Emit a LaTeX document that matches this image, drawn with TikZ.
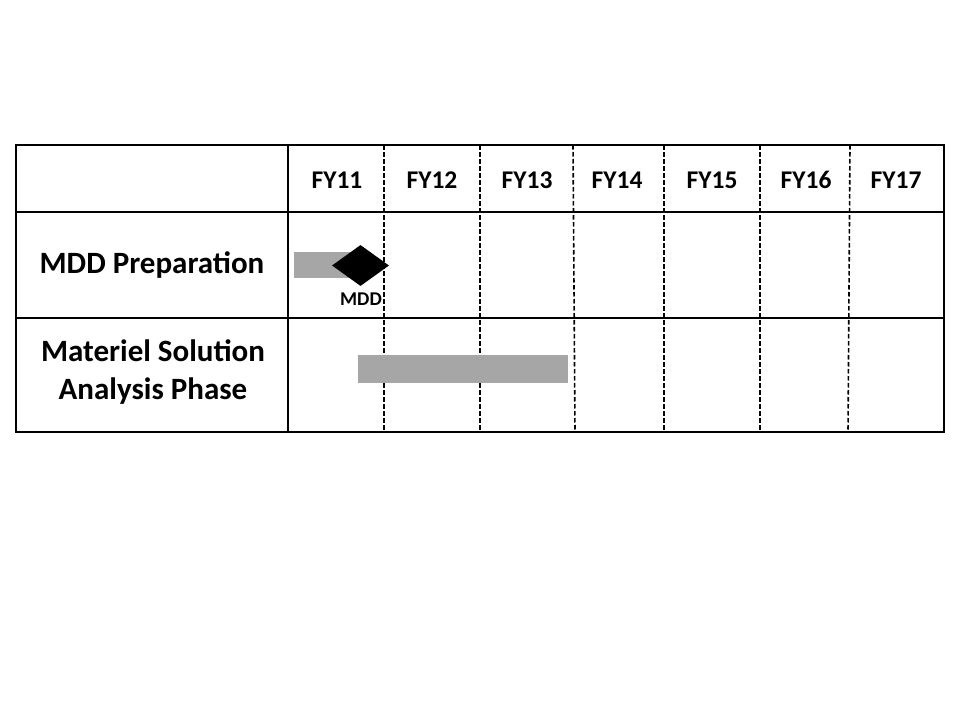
\documentclass[tikz,border=0pt]{standalone}
\usepackage{fontspec}
\setmainfont{Carlito}
\usetikzlibrary{shapes.geometric}

\begin{document}
\begin{tikzpicture}[x=1pt,y=-1pt,
  rowlabel/.style={font=\bfseries\fontsize{31}{38}\selectfont, align=center},
  yearlabel/.style={font=\bfseries\fontsize{25.5}{30}\selectfont},
  bar/.style={fill=black!35, draw=none},
  yearline/.style={black, line width=1.6pt, dashed, dash pattern=on 4.5pt off 2.5pt}]
\useasboundingbox (0,0) rectangle (960,720);
%% таблица;
\draw [line width=2pt] (16,212) -- (944,212);
\draw [line width=2pt] (16,318) -- (944,318);
\draw [line width=2pt] (288,145) -- (288,432);
\draw [yearline] (384,145) -- (384,432);
\draw [yearline] (480,145) -- (480,432);
\draw [yearline] (573,145) -- (575,432);
\draw [yearline] (664,145) -- (664,432);
\draw [yearline] (760,145) -- (760,432);
\draw [yearline] (850,145) -- (848,432);
\draw [line width=2.6pt] (16,145) rectangle (944,432);
%% годы;
\node [yearlabel] (fy11) at (337,180) {FY11};
\node [yearlabel] (fy12) at (432,180) {FY12};
\node [yearlabel] (fy13) at (527,180) {FY13};
\node [yearlabel] (fy14) at (617,180) {FY14};
\node [yearlabel] (fy15) at (712,180) {FY15};
\node [yearlabel] (fy16) at (806,180) {FY16};
\node [yearlabel] (fy17) at (896,180) {FY17};
%% строки;
\node [rowlabel] (prep) at (152,265) {MDD Preparation};
\node [rowlabel] (msa) at (153,372) {Materiel Solution\\ Analysis Phase};
%% полосы;
\fill [bar] (294,252) rectangle (352,278);
\fill [bar] (358,355) rectangle (568,383);
\node [diamond, fill=black, minimum width=57pt, minimum height=41pt, inner sep=0pt] (mdd) at (360.5,265.5) {};
\node [font=\bfseries\fontsize{19.5}{22}\selectfont] (mddlabel) at (361,299) {MDD};

\end{tikzpicture}
\end{document}
